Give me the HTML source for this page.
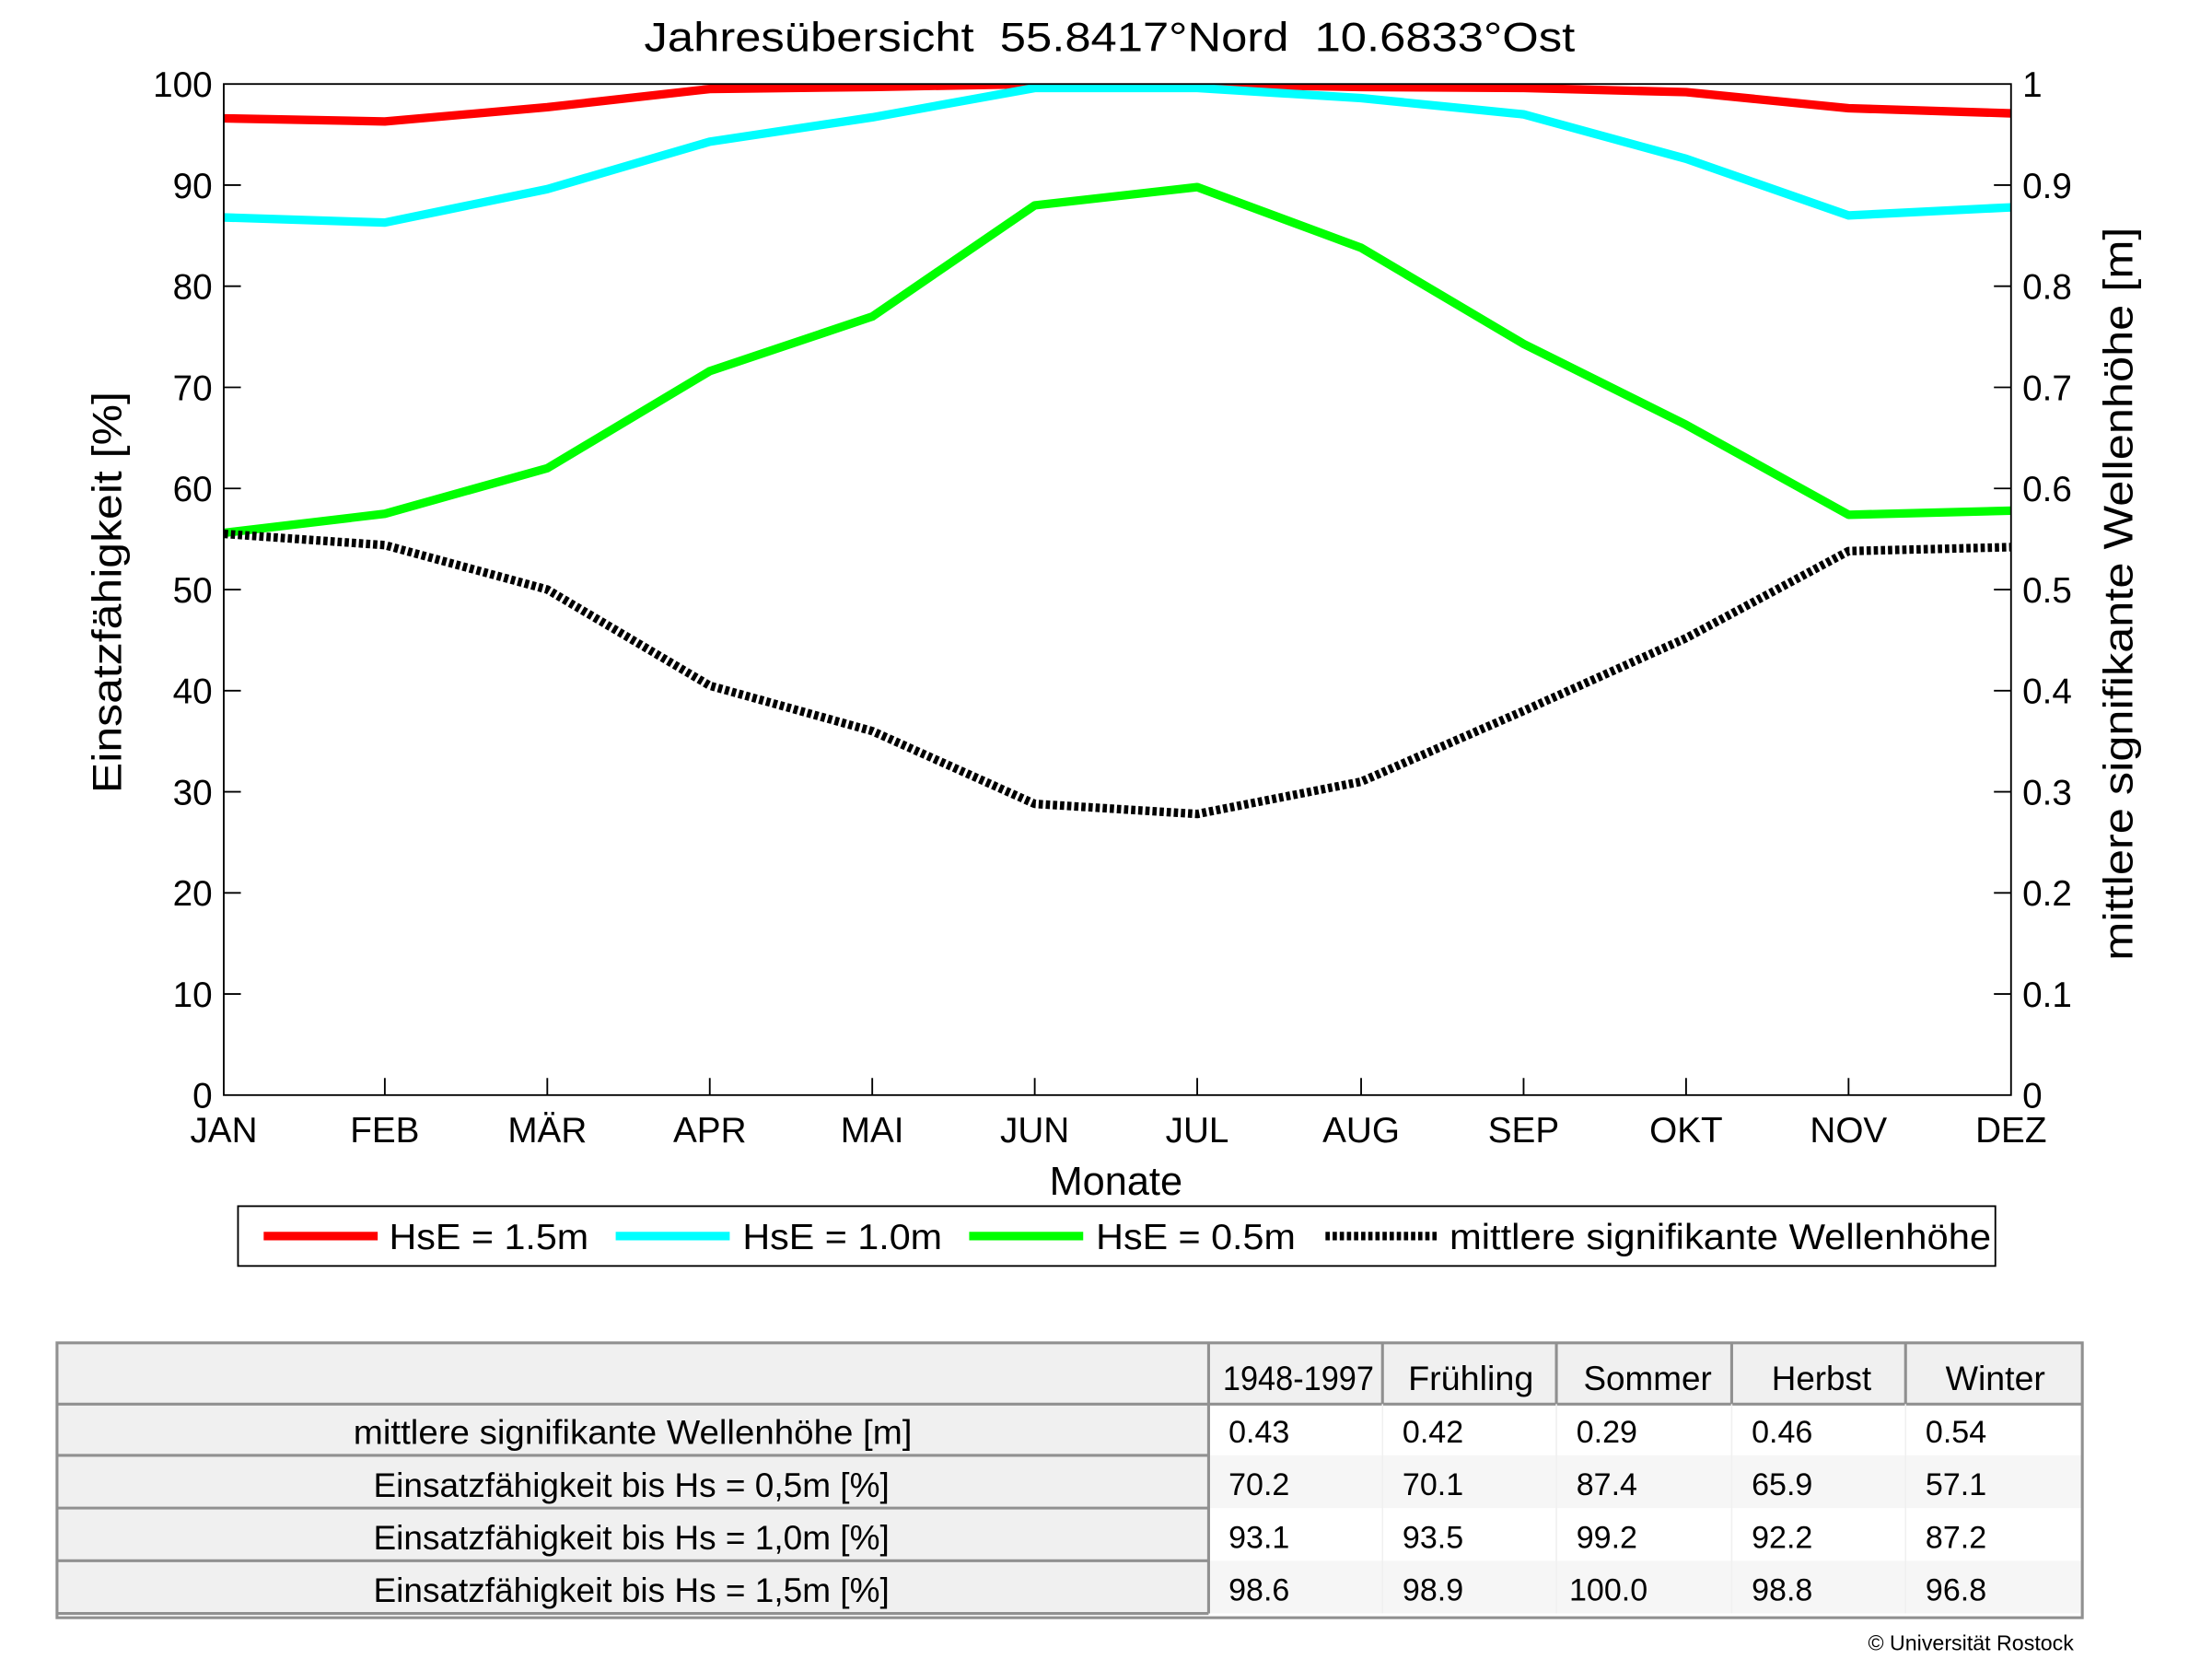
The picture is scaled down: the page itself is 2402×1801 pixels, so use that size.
<!DOCTYPE html>
<html><head><meta charset="utf-8"><style>
html,body{margin:0;padding:0;background:#fff;}
svg{display:block;}
text{font-family:"Liberation Sans",sans-serif;fill:#000;}
</style></head><body>
<svg width="2402" height="1801" viewBox="0 0 1552 1165" preserveAspectRatio="none" xmlns="http://www.w3.org/2000/svg">
<defs><clipPath id="c"><rect x="157" y="59" width="1254" height="710"/></clipPath></defs>
<text x="452" y="36" font-size="29" textLength="653" lengthAdjust="spacingAndGlyphs" xml:space="preserve" style="white-space:pre">Jahresübersicht  55.8417°Nord  10.6833°Ost</text>
<g clip-path="url(#c)" fill="none" stroke-width="6" stroke-linejoin="round">
<polyline stroke="#ff0000" points="157,83.1 270,85.3 384,75.3 498,62.5 612,61.1 726,59 840,59 955,61.1 1069,61.8 1183,64.7 1297,76 1411,79.6"/>
<polyline stroke="#00ffff" points="157,152.7 270,156.3 384,132.8 498,99.5 612,82.4 726,61.8 840,61.8 955,68.9 1069,80.3 1183,111.5 1297,151.3 1411,145.6"/>
<polyline stroke="#00ff00" points="157,374.2 270,360.8 384,328.8 498,260.6 612,222.3 726,144.2 840,131.4 955,174 1069,241.5 1183,298.3 1297,361.5 1411,358.6"/>
<polyline stroke="#000" stroke-dasharray="3,2" points="157,374.9 270,382.8 384,414 498,481.5 612,513.4 726,564.5 840,571.6 955,548.9 1069,499.2 1183,448.1 1297,387 1411,384.2"/>
</g>
<rect x="157" y="59" width="1254" height="710" fill="none" stroke="#000" stroke-width="1.2"/>
<g stroke="#000" stroke-width="1.2">
<line x1="157" y1="698" x2="169" y2="698"/><line x1="157" y1="627" x2="169" y2="627"/><line x1="157" y1="556" x2="169" y2="556"/><line x1="157" y1="485" x2="169" y2="485"/><line x1="157" y1="414" x2="169" y2="414"/><line x1="157" y1="343" x2="169" y2="343"/><line x1="157" y1="272" x2="169" y2="272"/><line x1="157" y1="201" x2="169" y2="201"/><line x1="157" y1="130" x2="169" y2="130"/>
<line x1="1399" y1="698" x2="1411" y2="698"/><line x1="1399" y1="627" x2="1411" y2="627"/><line x1="1399" y1="556" x2="1411" y2="556"/><line x1="1399" y1="485" x2="1411" y2="485"/><line x1="1399" y1="414" x2="1411" y2="414"/><line x1="1399" y1="343" x2="1411" y2="343"/><line x1="1399" y1="272" x2="1411" y2="272"/><line x1="1399" y1="201" x2="1411" y2="201"/><line x1="1399" y1="130" x2="1411" y2="130"/>
<line x1="270" y1="769" x2="270" y2="757"/><line x1="384" y1="769" x2="384" y2="757"/><line x1="498" y1="769" x2="498" y2="757"/><line x1="612" y1="769" x2="612" y2="757"/><line x1="726" y1="769" x2="726" y2="757"/><line x1="840" y1="769" x2="840" y2="757"/><line x1="955" y1="769" x2="955" y2="757"/><line x1="1069" y1="769" x2="1069" y2="757"/><line x1="1183" y1="769" x2="1183" y2="757"/><line x1="1297" y1="769" x2="1297" y2="757"/>
</g>
<g font-size="25" text-anchor="end">
<text x="149" y="778">0</text><text x="149" y="707">10</text><text x="149" y="636">20</text><text x="149" y="565">30</text><text x="149" y="494">40</text><text x="149" y="423">50</text><text x="149" y="352">60</text><text x="149" y="281">70</text><text x="149" y="210">80</text><text x="149" y="139">90</text><text x="149" y="68">100</text>
</g>
<g font-size="25">
<text x="1419" y="778">0</text><text x="1419" y="707">0.1</text><text x="1419" y="636">0.2</text><text x="1419" y="565">0.3</text><text x="1419" y="494">0.4</text><text x="1419" y="423">0.5</text><text x="1419" y="352">0.6</text><text x="1419" y="281">0.7</text><text x="1419" y="210">0.8</text><text x="1419" y="139">0.9</text><text x="1419" y="68">1</text>
</g>
<g font-size="25" text-anchor="middle">
<text x="157" y="802">JAN</text><text x="270" y="802">FEB</text><text x="384" y="802">MÄR</text><text x="498" y="802">APR</text><text x="612" y="802">MAI</text><text x="726" y="802">JUN</text><text x="840" y="802">JUL</text><text x="955" y="802">AUG</text><text x="1069" y="802">SEP</text><text x="1183" y="802">OKT</text><text x="1297" y="802">NOV</text><text x="1411" y="802">DEZ</text>
</g>
<text x="783" y="839" font-size="28" text-anchor="middle">Monate</text>
<text transform="translate(85,416) rotate(-90)" font-size="29" text-anchor="middle" textLength="282" lengthAdjust="spacingAndGlyphs">Einsatzfähigkeit [%]</text>
<text transform="translate(1496,417) rotate(-90)" font-size="29" text-anchor="middle" textLength="515" lengthAdjust="spacingAndGlyphs">mittlere signifikante Wellenhöhe [m]</text>
<rect x="167" y="847" width="1233" height="42" fill="#fff" stroke="#000" stroke-width="1.2"/>
<g stroke-width="6">
<line x1="185" y1="868" x2="265" y2="868" stroke="#ff0000"/>
<line x1="432" y1="868" x2="512" y2="868" stroke="#00ffff"/>
<line x1="680" y1="868" x2="760" y2="868" stroke="#00ff00"/>
<line x1="930" y1="868" x2="1008" y2="868" stroke="#000" stroke-dasharray="3,2"/>
</g>
<g font-size="25">
<text x="273" y="877" textLength="140" lengthAdjust="spacingAndGlyphs">HsE = 1.5m</text><text x="521" y="877" textLength="140" lengthAdjust="spacingAndGlyphs">HsE = 1.0m</text><text x="769" y="877" textLength="140" lengthAdjust="spacingAndGlyphs">HsE = 0.5m</text><text x="1017" y="877" textLength="380" lengthAdjust="spacingAndGlyphs">mittlere signifikante Wellenhöhe</text>
</g>
<rect x="40" y="943" width="1422" height="194" fill="#fff"/>
<rect x="40" y="943" width="1422" height="43" fill="#f0f0f0"/>
<rect x="40" y="986" width="808" height="147" fill="#f0f0f0"/>
<rect x="848" y="1022" width="613" height="37" fill="#f6f6f6"/>
<rect x="848" y="1096" width="613" height="37" fill="#f6f6f6"/>
<g stroke="#909090" stroke-width="2" fill="none">
<rect x="40" y="943" width="1421" height="193"/>
<line x1="40" y1="986" x2="1461" y2="986"/>
<line x1="40" y1="1022" x2="848" y2="1022"/><line x1="40" y1="1059" x2="848" y2="1059"/><line x1="40" y1="1096" x2="848" y2="1096"/><line x1="40" y1="1133" x2="848" y2="1133"/>
<line x1="848" y1="943" x2="848" y2="1133"/>
<line x1="970" y1="943" x2="970" y2="986"/><line x1="1092" y1="943" x2="1092" y2="986"/><line x1="1215" y1="943" x2="1215" y2="986"/><line x1="1337" y1="943" x2="1337" y2="986"/>
</g>
<g stroke="#f0f0f0" stroke-width="1">
<line x1="970" y1="986" x2="970" y2="1133"/><line x1="1092" y1="986" x2="1092" y2="1133"/><line x1="1215" y1="986" x2="1215" y2="1133"/><line x1="1337" y1="986" x2="1337" y2="1133"/>
</g>
<g font-size="24" fill="#222">
<text x="858" y="976" textLength="106" lengthAdjust="spacingAndGlyphs">1948-1997</text>
<text x="988" y="976" textLength="88" lengthAdjust="spacingAndGlyphs">Frühling</text>
<text x="1111" y="976" textLength="90" lengthAdjust="spacingAndGlyphs">Sommer</text>
<text x="1243" y="976" textLength="70" lengthAdjust="spacingAndGlyphs">Herbst</text>
<text x="1365" y="976" textLength="70" lengthAdjust="spacingAndGlyphs">Winter</text>
<text x="248" y="1014" textLength="392" lengthAdjust="spacingAndGlyphs">mittlere signifikante Wellenhöhe [m]</text>
<text x="262" y="1051" textLength="362" lengthAdjust="spacingAndGlyphs">Einsatzfähigkeit bis Hs = 0,5m [%]</text>
<text x="262" y="1088" textLength="362" lengthAdjust="spacingAndGlyphs">Einsatzfähigkeit bis Hs = 1,0m [%]</text>
<text x="262" y="1125" textLength="362" lengthAdjust="spacingAndGlyphs">Einsatzfähigkeit bis Hs = 1,5m [%]</text>
</g>
<g font-size="22" fill="#222">
<text x="862" y="1013">0.43</text><text x="984" y="1013">0.42</text><text x="1106" y="1013">0.29</text><text x="1229" y="1013">0.46</text><text x="1351" y="1013">0.54</text>
<text x="862" y="1050">70.2</text><text x="984" y="1050">70.1</text><text x="1106" y="1050">87.4</text><text x="1229" y="1050">65.9</text><text x="1351" y="1050">57.1</text>
<text x="862" y="1087">93.1</text><text x="984" y="1087">93.5</text><text x="1106" y="1087">99.2</text><text x="1229" y="1087">92.2</text><text x="1351" y="1087">87.2</text>
<text x="862" y="1124">98.6</text><text x="984" y="1124">98.9</text><text x="1101" y="1124">100.0</text><text x="1229" y="1124">98.8</text><text x="1351" y="1124">96.8</text>
</g>
<text x="1455" y="1159" font-size="15" text-anchor="end">© Universität Rostock</text>
</svg>
</body></html>
